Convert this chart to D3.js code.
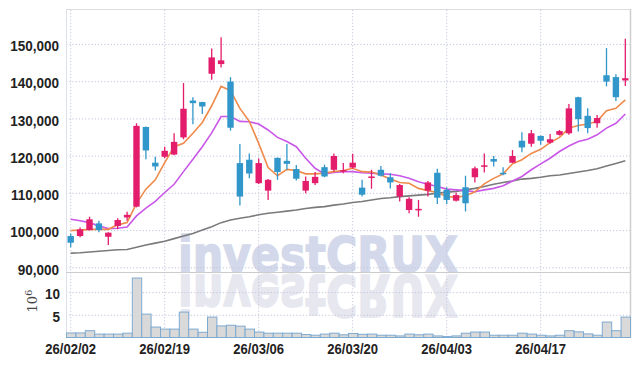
<!DOCTYPE html>
<html>
<head>
<meta charset="utf-8">
<script src="https://cdn.jsdelivr.net/npm/d3@7"></script>
<style>
  body { margin: 0; background: #fff; }
  .tick text { font-family: "Liberation Sans Narrow", "Arial Narrow", "Liberation Sans", sans-serif; font-weight: bold; font-size: 15px; fill: #222; }
</style>
</head>
<body>
<div id="chart"></div>
<script>
var dates = ["26/02/02","26/02/03","26/02/04","26/02/05","26/02/06","26/02/09","26/02/10","26/02/11","26/02/12","26/02/13",
  "26/02/19","26/02/20","26/02/23","26/02/24","26/02/25","26/02/26","26/02/27","26/03/03","26/03/04","26/03/05",
  "26/03/06","26/03/09","26/03/10","26/03/11","26/03/12","26/03/13","26/03/16","26/03/17","26/03/18","26/03/19",
  "26/03/20","26/03/23","26/03/24","26/03/25","26/03/26","26/03/27","26/03/30","26/03/31","26/04/01","26/04/02",
  "26/04/03","26/04/06","26/04/07","26/04/08","26/04/09","26/04/10","26/04/13","26/04/14","26/04/15","26/04/16",
  "26/04/17","26/04/20","26/04/21","26/04/22","26/04/23","26/04/24","26/04/27","26/04/28","26/04/29","26/04/30"];

var opens = [98400,98400,100000,101800,98200,101100,103400,106300,127700,118100,
  119700,120300,124900,134800,134400,142000,144600,139900,118000,118900,
  112600,110600,119400,118600,116400,110600,112600,116900,116200,115700,
  116800,111400,114100,116200,114200,109000,105400,105400,110600,115400,
  110800,107900,111500,114200,117100,119100,115400,118100,124000,123200,
  125300,123500,125600,126000,135700,130700,128700,141600,141100,140200];
var highs = [99100,100700,103600,102500,99400,103200,104900,128700,127800,119700,
  122400,126000,139500,135700,134500,148800,151800,141100,123100,120600,
  119200,113700,119500,123100,117500,114400,115600,117600,120600,118000,
  120500,113500,116200,117200,115300,112400,108800,108100,113200,116500,
  111500,110100,114600,117100,120600,119900,116900,121500,126300,126900,
  125400,125800,126900,133900,135800,132700,130900,148900,141900,151400];
var lows = [95400,98100,99900,99400,96000,100200,102500,106100,119000,116000,
  119300,120100,124400,128400,131200,140400,143700,126700,106600,113900,
  112400,108100,113500,116200,113300,109900,112100,114200,115700,115300,
  116500,109000,111100,114400,111200,107700,104500,103600,109000,107000,
  107000,107700,105000,112800,115500,117100,114700,118000,120900,122400,
  122900,123200,125400,125600,126500,126000,127500,138600,134700,138700];
var closes = [96600,100200,102900,100000,99300,102700,104100,128000,121400,117100,
  121300,123700,132600,134100,133200,146400,145600,127500,109000,115200,
  118000,113500,115600,117800,113800,113200,114300,114400,119900,116100,
  118100,109500,114400,114600,112800,112100,108400,105700,112800,108700,
  108100,109400,107200,116600,117400,118400,115100,119900,122200,126000,
  124000,124400,126600,132700,129800,127400,130100,139900,135700,140800];

// volume in millions of shares
var volume = [1.0,1.0,1.5,0.75,0.75,0.75,0.95,13.1,5.15,2.3,
  1.85,1.85,5.6,1.85,1.15,4.5,2.55,2.7,2.5,1.85,
  1.2,0.95,0.95,0.95,0.95,0.65,0.5,0.75,0.95,0.6,
  0.9,0.7,0.75,0.5,0.5,0.35,0.75,0.6,0.75,0.35,
  0.2,0.35,0.95,1.2,1.2,0.5,0.5,0.5,0.95,0.75,
  0.5,0.35,0.5,1.5,1.25,0.8,0.5,3.4,1.5,4.5];

var ma5 = [99900,100000,100200,100200,100200,101400,102000,107200,111000,113500,
  118100,122400,123300,126000,128900,133400,138600,137500,132700,129200,
  123300,116800,114600,116300,116000,115100,115100,115300,115700,116000,
  116600,115700,115600,114800,113700,112800,112600,111200,110600,110100,
  109000,108800,109200,110300,112400,113900,115100,117800,118900,120600,
  121700,123500,124900,127400,128100,128500,129200,132100,132700,135000];
var ma20 = [102900,102500,102000,101100,100400,100500,100800,103800,105900,107700,
  110100,112300,115700,119000,122400,126100,130500,130500,129200,129100,
  128500,126900,124900,123800,122400,119300,116600,115100,115500,115700,
  115700,115400,115300,115100,115000,114600,113900,113000,112300,111700,
  111000,110800,110600,110300,110800,111200,111900,113200,114400,116200,
  117800,119300,121100,122600,123800,124400,125600,127400,128700,131200];
var ma60 = [93800,93900,94100,94300,94500,94700,94800,95400,96000,96500,
  97000,97700,98400,99100,100000,100900,102000,102700,103200,103600,
  104100,104500,104800,105100,105400,105800,106100,106300,106700,107000,
  107400,107700,108100,108500,108700,109000,109200,109400,109600,109900,
  110200,110400,110800,111200,111700,112300,112800,113200,113700,113900,
  114200,114600,114800,115200,115600,116000,116500,117200,117900,118600];

var priceTicks = [90000,100000,110000,120000,130000,140000,150000];
var volTicks = [5,10];
var dateTicks = ["26/02/02","26/02/19","26/03/06","26/03/20","26/04/03","26/04/17"];

var width = 639, height = 366;
var plotLeft = 66, plotRight = 630, plotTop = 9;
var priceBottom = 272, volBottom = 337.5;

var upColor = "#e31c6b", downColor = "#3196c9";
var gridColor = "#c3c7dd";

var svg = d3.select("#chart")
  .append("svg")
  .attr("width", width)
  .attr("height", height);

var x = d3.scaleBand().domain(dates).range([plotLeft, plotRight]).padding(0);
var bw = x.bandwidth();
var cx = function (i) { return x(dates[i]) + bw / 2; };

var y = d3.scaleLinear().domain([88737, 159398]).range([priceBottom, plotTop]);
var yv = d3.scaleLinear().domain([0, 14.43]).range([volBottom, priceBottom]);

// squeeze tick labels to the narrow look of the original
function narrow(g, ratio) {
  g.selectAll("text").each(function () {
    var w = this.getComputedTextLength();
    d3.select(this).attr("textLength", w * ratio).attr("lengthAdjust", "spacingAndGlyphs");
  });
}

// watermark + reflection
var wm = svg.append("g")
  .attr("font-family", "'DejaVu Sans', 'Liberation Sans', sans-serif")
  .attr("font-weight", "bold")
  .attr("font-size", 50);
wm.append("text")
  .attr("x", 178).attr("y", 272)
  .attr("fill", "#d3d9ea")
  .attr("stroke", "#d3d9ea").attr("stroke-width", 1.5)
  .attr("textLength", 280).attr("lengthAdjust", "spacingAndGlyphs")
  .text("investCRUX");
wm.append("text")
  .attr("transform", "translate(0,275) scale(1,-1.13)")
  .attr("x", 178).attr("y", 0)
  .attr("fill", "#e6e7ef")
  .attr("stroke", "#e6e7ef").attr("stroke-width", 1.5)
  .attr("textLength", 280).attr("lengthAdjust", "spacingAndGlyphs")
  .text("investCRUX");

// grids
svg.append("g")
  .attr("transform", "translate(" + plotLeft + ",0)")
  .call(d3.axisLeft(y).tickValues(priceTicks).tickSize(-(plotRight - plotLeft)).tickFormat(""))
  .call(g => g.select(".domain").remove())
  .call(g => g.selectAll("line").attr("stroke", gridColor).attr("stroke-dasharray", "1.2,2"));

svg.append("g")
  .attr("transform", "translate(" + plotLeft + ",0)")
  .call(d3.axisLeft(yv).tickValues(volTicks).tickSize(-(plotRight - plotLeft)).tickFormat(""))
  .call(g => g.select(".domain").remove())
  .call(g => g.selectAll("line").attr("stroke", gridColor).attr("stroke-dasharray", "1.2,2"));

svg.append("g")
  .attr("transform", "translate(0," + volBottom + ")")
  .call(d3.axisBottom(x).tickValues(dateTicks).tickSize(-(volBottom - plotTop)).tickFormat(""))
  .call(g => g.select(".domain").remove())
  .call(g => g.selectAll("line").attr("stroke", gridColor).attr("stroke-dasharray", "1.2,2"));

// frame
var frame = svg.append("g").attr("fill", "none");
frame.append("line").attr("x1", plotLeft).attr("x2", plotRight).attr("y1", plotTop + 0.5).attr("y2", plotTop + 0.5).attr("stroke", "#dcdcdc");
frame.append("line").attr("x1", plotLeft + 0.5).attr("x2", plotLeft + 0.5).attr("y1", plotTop).attr("y2", volBottom).attr("stroke", "#dde0ea");
frame.append("line").attr("x1", plotRight + 0.5).attr("x2", plotRight + 0.5).attr("y1", plotTop).attr("y2", volBottom).attr("stroke", "#cfcfcf").attr("stroke-width", 1.5);
frame.append("line").attr("x1", plotLeft).attr("x2", plotRight).attr("y1", priceBottom + 0.5).attr("y2", priceBottom + 0.5).attr("stroke", "#cccccc").attr("stroke-width", 1.2);

// volume bars
svg.append("g")
  .selectAll("rect")
  .data(volume)
  .join("rect")
  .attr("x", (d, i) => x(dates[i]) + 0.5)
  .attr("y", d => yv(d))
  .attr("width", bw)
  .attr("height", d => volBottom - yv(d))
  .attr("fill", "#d9d9d9")
  .attr("stroke", "#7eaad0")
  .attr("stroke-width", 1);

// moving averages
var line = d3.line().x((d, i) => cx(i)).y(d => y(d));
[[ma60, "#7a7a7a"], [ma20, "#c957e8"], [ma5, "#ef8a4b"]].forEach(function (s) {
  svg.append("path")
    .datum(s[0])
    .attr("d", line)
    .attr("fill", "none")
    .attr("stroke", s[1])
    .attr("stroke-width", 1.6);
});

// candles
var candles = svg.append("g")
  .selectAll("g")
  .data(dates)
  .join("g")
  .attr("fill", (d, i) => closes[i] >= opens[i] ? upColor : downColor)
  .attr("stroke", (d, i) => closes[i] >= opens[i] ? upColor : downColor);

candles.append("line")
  .attr("x1", (d, i) => cx(i))
  .attr("x2", (d, i) => cx(i))
  .attr("y1", (d, i) => y(highs[i]))
  .attr("y2", (d, i) => y(lows[i]))
  .attr("stroke-width", 1.3);

candles.append("rect")
  .attr("x", (d, i) => cx(i) - 3.2)
  .attr("width", 6.4)
  .attr("y", (d, i) => y(Math.max(opens[i], closes[i])))
  .attr("height", (d, i) => Math.max(1.5, Math.abs(y(opens[i]) - y(closes[i]))))
  .attr("stroke", "none");

// axes labels
svg.append("g")
  .attr("transform", "translate(" + plotLeft + ",0)")
  .call(d3.axisLeft(y).tickValues(priceTicks).tickFormat(d3.format(",")).tickSize(0).tickPadding(7))
  .call(g => g.select(".domain").remove())
  .call(g => g.selectAll("text").attr("dy", "0.45em"))
  .call(g => narrow(g, 0.9));

svg.append("g")
  .attr("transform", "translate(" + plotLeft + ",0)")
  .call(d3.axisLeft(yv).tickValues(volTicks).tickFormat(d3.format("d")).tickSize(0).tickPadding(6))
  .call(g => g.select(".domain").remove())
  .call(g => g.selectAll("text").attr("dy", "0.42em"))
  .call(g => narrow(g, 0.9));

svg.append("g")
  .attr("transform", "translate(0," + volBottom + ")")
  .call(d3.axisBottom(x).tickValues(dateTicks).tickSize(0))
  .call(g => g.select(".domain").remove())
  .call(g => g.selectAll("text").attr("y", 16.5).attr("dy", 0))
  .call(g => narrow(g, 0.87));

// volume unit
var unit = svg.append("text")
  .attr("transform", "translate(37,301) rotate(-90)")
  .attr("text-anchor", "middle")
  .attr("font-family", "'DejaVu Serif', 'Liberation Serif', serif")
  .attr("font-size", 13)
  .attr("fill", "#444");
unit.append("tspan").text("10");
unit.append("tspan").attr("font-size", 10).attr("dy", -5).text("6");
</script>
</body>
</html>
